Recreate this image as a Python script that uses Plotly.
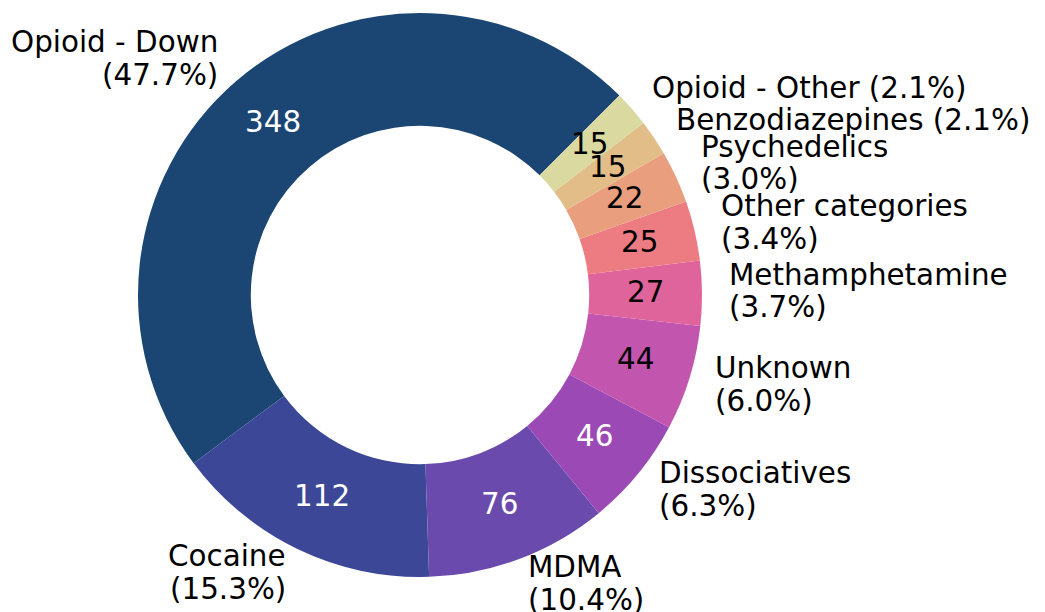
import math
import plotly.graph_objects as go

# ---- data ----
categories = ["Opioid - Down", "Cocaine", "MDMA", "Dissociatives", "Unknown",
              "Methamphetamine", "Other categories", "Psychedelics",
              "Benzodiazepines", "Opioid - Other"]
counts = [348, 112, 76, 46, 44, 27, 25, 22, 15, 15]
label_lines = [["Opioid - Down", "(47.7%)"], ["Cocaine", "(15.3%)"], ["MDMA", "(10.4%)"],
               ["Dissociatives", "(6.3%)"], ["Unknown", "(6.0%)"],
               ["Methamphetamine", "(3.7%)"], ["Other categories", "(3.4%)"],
               ["Psychedelics", "(3.0%)"], ["Benzodiazepines (2.1%)"],
               ["Opioid - Other (2.1%)"]]
colors = ["#1b4674", "#3c4797", "#6b4aae", "#9b4ab5", "#c255ad",
          "#e0649c", "#ec7b82", "#e99e7e", "#e3bd88", "#dad9a0"]
value_colors = ["white", "white", "white", "white", "black",
                "black", "black", "black", "black", "black"]

# ---- layout geometry (pixels) ----
W, H = 1045, 612
CX, CY, R = 420, 295, 282
START = 45.0          # degrees, counterclockwise from 3 o'clock
FS = 29.4
LINE = 32.6
FONT = "DejaVu Sans"

total = sum(counts)
# plotly (counterclockwise) puts the first slice clockwise of `rotation`
first_span = counts[0] / total * 360
rotation = 90 - START - first_span

fig = go.Figure(go.Pie(
    labels=categories, values=counts, sort=False, direction="counterclockwise",
    rotation=rotation, hole=0.6, textinfo="none", hoverinfo="label+value",
    marker=dict(colors=colors, line=dict(width=0)),
    domain=dict(x=[(CX - R) / W, (CX + R) / W], y=[(H - CY - R) / H, (H - CY + R) / H]),
    showlegend=False,
))

ann = []
cum = 0.0
for cat, v, lines, vc in zip(categories, counts, label_lines, value_colors):
    a0 = START + cum / total * 360
    cum += v
    a1 = START + cum / total * 360
    mid = math.radians((a0 + a1) / 2)
    c, s = math.cos(mid), math.sin(mid)
    # value label
    px, py = CX + 0.8 * R * c, CY - 0.8 * R * s
    ann.append(dict(x=px / W, y=1 - py / H, xref="paper", yref="paper", text=str(v),
                    showarrow=False, xanchor="center", yanchor="middle", yshift=2,
                    font=dict(family=FONT, size=FS, color=vc)))
    # category label
    lx, ly = CX + 1.1 * R * c, CY - 1.1 * R * s
    n = len(lines)
    for i, t in enumerate(lines):
        yy = ly + (i - (n - 1) / 2) * LINE
        ann.append(dict(x=lx / W, y=1 - yy / H, xref="paper", yref="paper", text=t,
                        showarrow=False, xanchor="left" if c > 0 else "right",
                        xshift=-3 if c > 0 else 3, yshift=2,
                        yanchor="middle", font=dict(family=FONT, size=FS, color="black")))

fig.update_layout(
    width=W, height=H, margin=dict(l=0, r=0, t=0, b=0),
    paper_bgcolor="white", plot_bgcolor="white",
    annotations=ann,
)
fig.write_html("out.html", config={"displayModeBar": False},
               post_script="document.body.style.margin='0px';document.body.style.overflow='hidden';")
